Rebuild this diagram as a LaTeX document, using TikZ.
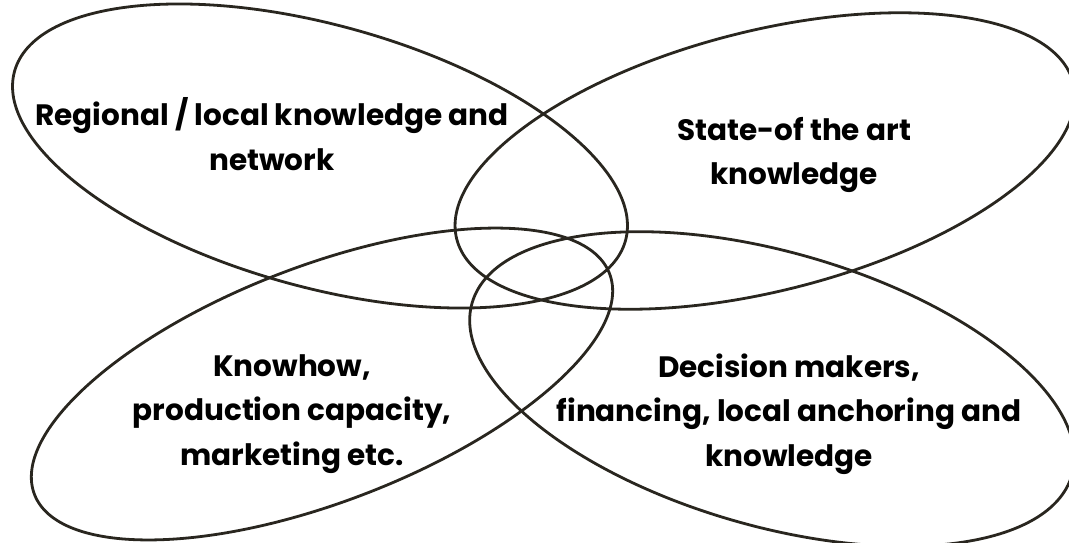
\documentclass[tikz,border=0pt]{standalone}
\usepackage{fontspec}
\setmainfont{Poppins}
\definecolor{petalline}{RGB}{41,38,31}
\tikzset{
  petal/.style={draw=petalline, line width=2.8pt},
  lbl/.style={align=center, font=\bfseries\fontsize{29.5}{44.5}\selectfont, text=black, inner sep=0pt}
}
\begin{document}
\begin{tikzpicture}[x=1pt,y=-1pt]
\useasboundingbox (0,0) rectangle (1069,542);
% petals
\draw[petal, rotate around={-15.5:(320,156)}] (320,156) ellipse [x radius=317pt, y radius=131pt];
\draw[petal, rotate around={14.2:(765,161)}] (765,161) ellipse [x radius=318pt, y radius=130pt];
\draw[petal, rotate around={21:(322,384)}] (322,384) ellipse [x radius=308pt, y radius=118pt];
\draw[petal, rotate around={-16:(772,389)}] (772,389) ellipse [x radius=312pt, y radius=137pt];
% labels
\node[lbl] (regional) at (272,134) {Regional / local knowledge and\\network};
\node[lbl] (state) at (794,155) {State-of the art\\knowledge};
\node[lbl] (knowhow) at (292,414) {Knowhow,\\production capacity,\\marketing etc.};
\node[lbl] (decision) at (789,414) {Decision makers,\\financing, local anchoring and\\knowledge};
\end{tikzpicture}
\end{document}
